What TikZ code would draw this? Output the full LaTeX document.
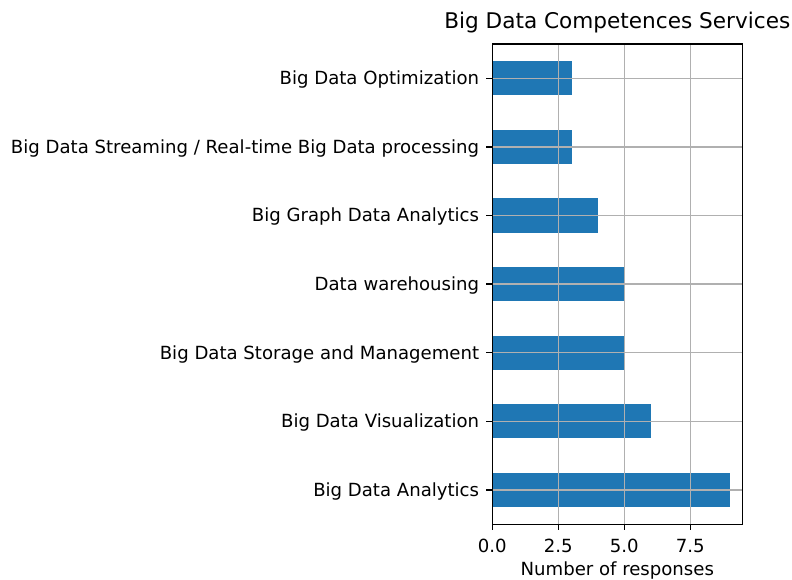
\documentclass[tikz,border=0pt]{standalone}
\usepackage{fontspec}
\setmainfont{DejaVu Sans}
\usetikzlibrary{positioning}
\definecolor{barblue}{HTML}{1F77B4}
\definecolor{gridgray}{HTML}{B0B0B0}
\begin{document}
\begin{tikzpicture}[x=1pt, y=-1pt]
        \tikzstyle{bar}=[fill=barblue];
        \tikzstyle{gridline}=[draw=gridgray, line width=1.37pt];
        \tikzstyle{tickmark}=[draw=black, line width=1.37pt];
        \tikzstyle{lab}=[font=\fontsize{18.1}{21}\selectfont, inner sep=0pt];
        \useasboundingbox (0,0) rectangle (792,580);

        \foreach \val [count=\i from 0] in {3,3,4,5,5,6,9}
          \fill[bar] (492.3, 78.3+68.6*\i-17.15) rectangle (492.3+26.4*\val, 78.3+68.6*\i+17.15);

        \foreach \t [count=\k from 0] in {0.0,2.5,5.0,7.5} {
          \draw[gridline] (492.3+66*\k, 44) -- (492.3+66*\k, 524.3);
          \draw[tickmark] (492.3+66*\k, 524.3) -- (492.3+66*\k, 530.3);
          \node[lab, anchor=base] (xt\k) at (492.3+66*\k, 552) {\t};
        }
        \foreach \name [count=\i from 0] in {Big Data Optimization,
            Big Data Streaming / Real-time Big Data processing,
            Big Graph Data Analytics, Data warehousing,
            Big Data Storage and Management, Big Data Visualization,
            Big Data Analytics} {
          \draw[gridline] (492.3, 78.3+68.6*\i) -- (742.3, 78.3+68.6*\i);
          \draw[tickmark] (492.3, 78.3+68.6*\i) -- (486.3, 78.3+68.6*\i);
          \node[lab, anchor=base east] (cat\i) at (479.3, 78.3+68.6*\i+6.5) {\name};
        }
        \draw[tickmark] (492.3,44) rectangle (742.3,524.3);

        \node[font=\fontsize{21.6}{25}\selectfont, inner sep=0pt, anchor=base] (title) at (617.3, 29) {Big Data Competences Services};
        \node[lab, anchor=base] (xlabel) at (617.3, 575) {Number of responses};
\end{tikzpicture}
\end{document}
